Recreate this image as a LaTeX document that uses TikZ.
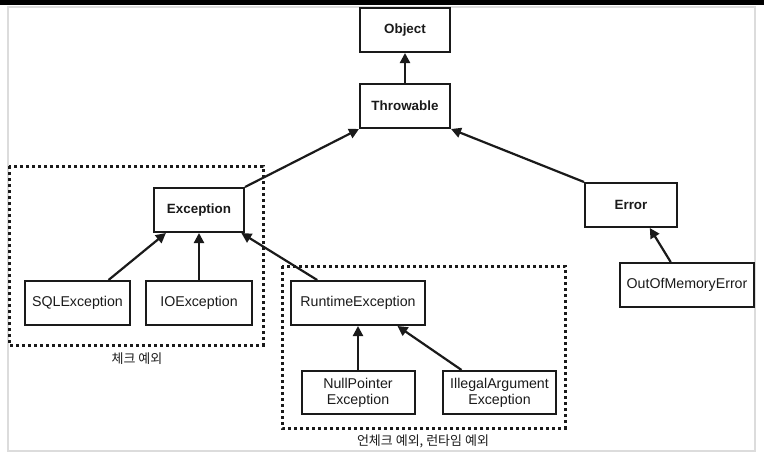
\documentclass[tikz,border=0pt]{standalone}
\usepackage{fontspec}
\setmainfont{Liberation Sans}
\newfontfamily\krfont{Noto Sans CJK KR}
\usepackage{xcolor}
\usepackage{tikz}
\usetikzlibrary{arrows.meta}
\usetikzlibrary{calc}
\definecolor{ink}{HTML}{1A1A1A}
\definecolor{frame}{HTML}{DCDCDC}
\tikzstyle{box} = [draw=ink, line width=2pt, minimum height=44pt, inner sep=0pt, text=ink, font=\fontsize{14.2}{16}\selectfont, align=center]
\tikzstyle{topbox} = [box, font=\fontsize{13.4}{16}\selectfont\bfseries]
\tikzstyle{inherit} = [draw=ink, line width=2.2pt, -{Triangle[length=10pt,width=10pt]}]
\tikzstyle{group} = [draw=ink, line width=3pt, dash pattern=on 3pt off 3pt]
\tikzstyle{grouplabel} = [text=ink, font=\krfont\fontsize{13}{15}\selectfont]

\begin{document}
\begin{tikzpicture}[x=1pt, y=-1pt]
	\useasboundingbox (0, 0) rectangle (764, 456) ;
	\fill[black] (0, 0) rectangle (764, 5) ;
	\draw[frame, line width=2pt] (8, 7) rectangle (755, 451) ;
	
	% top of the tree
	\node[topbox, minimum width=90pt] (Object) at (405, 30) {Object} ;
	\node[topbox, minimum width=90pt] (Throwable) at (405, 106) {Throwable} ;
	\node[topbox, minimum width=90pt] (Exception) at (199, 210) {Exception} ;
	\node[topbox, minimum width=92pt] (Error) at (631, 205) {Error} ;
	
	% checked
	\node[box, minimum width=105pt] (SQLException) at (77.5, 303) {SQLException} ;
	\node[box, minimum width=106pt] (IOException) at (199, 303) {IOException} ;
	
	% unchecked
	\node[box, minimum width=134pt] (RuntimeException) at (358, 303) {RuntimeException} ;
	\node[box, minimum width=113pt, minimum height=43pt] (NullPointer) at (358, 392.5) {NullPointer\\Exception} ;
	\node[box, minimum width=113pt, minimum height=43pt] (IllegalArgument) at (499.5, 392.5) {IllegalArgument\\Exception} ;
	\node[box, minimum width=134pt] (OutOfMemory) at (687, 285) {OutOfMemoryError} ;
	
	\draw[inherit] (Throwable) -- (Object) ;
	\draw[inherit] (Exception.north east) -- (Throwable.south west) ;
	\draw[inherit] (Error.north west) -- (Throwable.south east) ;
	\draw[inherit] ($(SQLException.north west)!0.79!(SQLException.north east)$) -- ($(Exception.south west)!0.14!(Exception.south east)$) ;
	\draw[inherit] (IOException) -- (Exception) ;
	\draw[inherit] ($(RuntimeException.north west)!0.2!(RuntimeException.north east)$) -- ($(Exception.south west)!0.96!(Exception.south east)$) ;
	\draw[inherit] (NullPointer) -- (RuntimeException) ;
	\draw[inherit] ($(IllegalArgument.north west)!0.17!(IllegalArgument.north east)$) -- ($(RuntimeException.south west)!0.79!(RuntimeException.south east)$) ;
	\draw[inherit] ($(OutOfMemory.north west)!0.38!(OutOfMemory.north east)$) -- ($(Error.south west)!0.7!(Error.south east)$) ;
	
	% groups
	\draw[group] (9, 166) rectangle (263, 345) ;
	\node[grouplabel] (checked) at (137, 359) {체크 예외} ;
	\draw[group] (282, 266) rectangle (565, 428) ;
	\node[grouplabel] (unchecked) at (423, 441) {언체크 예외, 런타임 예외} ;
\end{tikzpicture}
\end{document}
